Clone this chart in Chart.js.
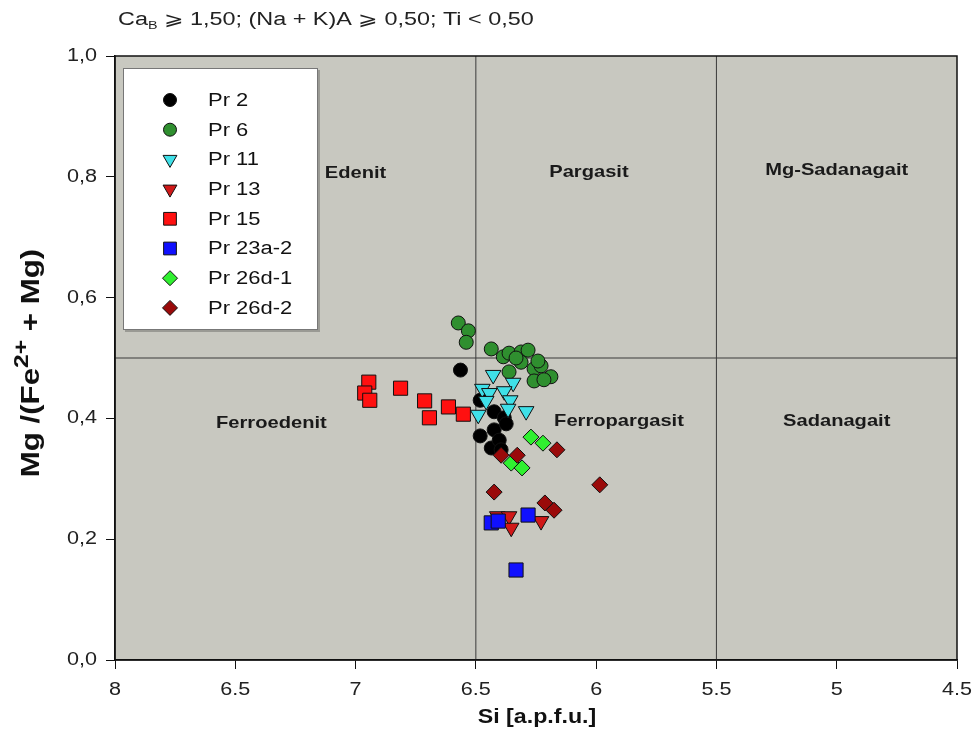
<!DOCTYPE html>
<html><head><meta charset="utf-8">
<script src="https://cdn.jsdelivr.net/npm/chart.js@4.4.0/dist/chart.umd.min.js"></script>
<style>html,body{margin:0;padding:0;background:#fff;}#wrap{width:979px;height:743px;}</style>
</head><body><div id="wrap"><canvas id="c" width="979" height="743"></canvas></div>
<script>
// ---- data ----
const xTickValues = [8, 7.5, 7, 6.5, 6, 5.5, 5, 4.5];
const xTickLabels = ['8', '6.5', '7', '6.5', '6', '5.5', '5', '4.5'];
const yTickValues = [0, 0.2, 0.4, 0.6, 0.8, 1.0];
const yTickLabels = ['0,0', '0,2', '0,4', '0,6', '0,8', '1,0'];

const seriesNames = ['Pr 2', 'Pr 6', 'Pr 11', 'Pr 13', 'Pr 15', 'Pr 23a-2', 'Pr 26d-1', 'Pr 26d-2'];

const pr2Si = [6.564, 6.482, 6.424, 6.382, 6.482, 6.424, 6.436, 6.374, 6.403, 6.395];
const pr2Mg = [0.480, 0.430, 0.411, 0.401, 0.371, 0.381, 0.351, 0.391, 0.364, 0.348];

const pr6Si = [6.573, 6.531, 6.540, 6.436, 6.386, 6.362, 6.312, 6.283, 6.362, 6.258, 6.229, 6.188, 6.258, 6.217, 6.312, 6.242, 6.333];
const pr6Mg = [0.558, 0.545, 0.526, 0.515, 0.502, 0.508, 0.510, 0.513, 0.477, 0.482, 0.487, 0.469, 0.462, 0.464, 0.493, 0.495, 0.500];

const pr11Si = [6.428, 6.345, 6.473, 6.444, 6.382, 6.357, 6.457, 6.366, 6.291, 6.490];
const pr11Mg = [0.472, 0.459, 0.449, 0.442, 0.445, 0.430, 0.429, 0.416, 0.412, 0.406];

const pr13Si = [6.411, 6.362, 6.353, 6.229];
const pr13Mg = [0.238, 0.238, 0.219, 0.230];

const pr15Si = [6.945, 6.962, 6.941, 6.813, 6.713, 6.693, 6.614, 6.552];
const pr15Mg = [0.460, 0.442, 0.430, 0.450, 0.429, 0.401, 0.419, 0.407];

const pr23a2Si = [6.436, 6.407, 6.283, 6.333];
const pr23a2Mg = [0.227, 0.230, 0.240, 0.149];

const pr26d1Si = [6.271, 6.221, 6.353, 6.308];
const pr26d1Mg = [0.369, 0.359, 0.326, 0.318];

const pr26d2Si = [6.395, 6.328, 6.163, 6.424, 5.985, 6.213, 6.175];
const pr26d2Mg = [0.339, 0.339, 0.348, 0.278, 0.290, 0.260, 0.248];

const dividerSi = [6.5, 5.5];
const dividerMg = [0.5];

const fieldNames = ['Edenit', 'Pargasit', 'Mg-Sadanagait', 'Ferroedenit', 'Ferropargasit', 'Sadanagait'];
const fieldSi = [7.00, 6.03, 5.00, 7.35, 5.905, 5.00];
const fieldMg = [0.805, 0.808, 0.811, 0.392, 0.395, 0.395];

// ---- styles ----
const FONT = '"Liberation Sans", Arial, sans-serif';
const styles = [
  {fill: '#000000', shape: 'circle', r: 7, rot: 0, lr: 6.5},
  {fill: '#2f8f2f', shape: 'circle', r: 7, rot: 0, lr: 6.5},
  {fill: '#3fe0e8', shape: 'triangle', r: 9, rot: 180, lr: 8},
  {fill: '#d01818', shape: 'triangle', r: 9, rot: 180, lr: 8},
  {fill: '#ff1010', shape: 'rect', r: 10, rot: 0, lr: 9},
  {fill: '#1010ff', shape: 'rect', r: 10, rot: 0, lr: 9},
  {fill: '#30f030', shape: 'rectRot', r: 8, rot: 0, lr: 7.5},
  {fill: '#9a0a0a', shape: 'rectRot', r: 8, rot: 0, lr: 7.5}
];
const siArrays = [pr2Si, pr6Si, pr11Si, pr13Si, pr15Si, pr23a2Si, pr26d1Si, pr26d2Si];
const mgArrays = [pr2Mg, pr6Mg, pr11Mg, pr13Mg, pr15Mg, pr23a2Mg, pr26d1Mg, pr26d2Mg];

const datasets = seriesNames.map((name, i) => ({
  label: name,
  data: siArrays[i].map((x, j) => ({x: x, y: mgArrays[i][j]})),
  pointStyle: styles[i].shape,
  pointRotation: styles[i].rot,
  pointRadius: styles[i].r,
  pointHoverRadius: styles[i].r,
  backgroundColor: styles[i].fill,
  borderColor: '#111',
  borderWidth: 1,
  showLine: false,
  order: 20 - i
}));
dividerSi.forEach(v => datasets.push({
  label: '', data: [{x: v, y: 0}, {x: v, y: 1}], showLine: true, pointRadius: 0,
  borderColor: '#3a3a3a', borderWidth: 1, order: 100
}));
dividerMg.forEach(v => datasets.push({
  label: '', data: [{x: 8, y: v}, {x: 4.5, y: v}], showLine: true, pointRadius: 0,
  borderColor: '#3a3a3a', borderWidth: 1, order: 100
}));

function drawMarker(ctx, st, x, y, r) {
  ctx.save();
  ctx.fillStyle = st.fill; ctx.strokeStyle = '#111'; ctx.lineWidth = 1;
  if (Chart.helpers && Chart.helpers.drawPoint) {
    Chart.helpers.drawPoint(ctx, {pointStyle: st.shape, rotation: st.rot, radius: r, borderWidth: 1}, x, y);
  } else {
    ctx.beginPath(); ctx.arc(x, y, r, 0, Math.PI * 2); ctx.fill(); ctx.stroke();
  }
  ctx.restore();
}
// text drawn with a slight horizontal stretch like the scanned original
function sText(ctx, text, x, y, font, sx, align, baseline) {
  ctx.save();
  ctx.font = font;
  ctx.textAlign = align || 'left';
  ctx.textBaseline = baseline || 'middle';
  ctx.translate(x, y);
  ctx.scale(sx, 1);
  ctx.fillText(text, 0, 0);
  const w = ctx.measureText(text).width * sx;
  ctx.restore();
  return w;
}

const decor = {
  id: 'decor',
  beforeDraw(chart) {
    const {ctx, chartArea: a} = chart;
    ctx.save();
    ctx.fillStyle = '#c8c8c0';
    ctx.fillRect(a.left, a.top, a.right - a.left, a.bottom - a.top);
    ctx.restore();
  },
  afterDatasetsDraw(chart) {
    const {ctx, chartArea: a, scales} = chart;
    ctx.save();
    ctx.strokeStyle = '#111'; ctx.lineWidth = 1.5;
    ctx.strokeRect(a.left, a.top, a.right - a.left, a.bottom - a.top);
    ctx.fillStyle = '#1a1a1a';
    fieldNames.forEach((n, i) => {
      sText(ctx, n, scales.x.getPixelForValue(fieldSi[i]), scales.y.getPixelForValue(fieldMg[i]),
        'bold 16.5px ' + FONT, 1.22, 'center', 'middle');
    });
    // legend box
    const bx = 123, by = 68, bw = 195, bh = 262;
    ctx.fillStyle = '#9a9a94';
    ctx.fillRect(bx + 2, by + 2, bw, bh);
    ctx.fillStyle = '#ffffff';
    ctx.fillRect(bx, by, bw, bh);
    ctx.strokeStyle = '#777'; ctx.lineWidth = 1;
    ctx.strokeRect(bx + 0.5, by + 0.5, bw - 1, bh - 1);
    seriesNames.forEach((n, i) => {
      const y = 100 + i * 29.7;
      drawMarker(ctx, styles[i], 170, y, styles[i].lr);
      ctx.fillStyle = '#111';
      sText(ctx, n, 208, y + 1, '18px ' + FONT, 1.22, 'left', 'middle');
    });
    ctx.restore();
  },
  afterDraw(chart) {
    const {ctx, scales} = chart;
    ctx.save();
    ctx.fillStyle = '#222';
    // tick labels
    xTickValues.forEach((v, i) => {
      sText(ctx, xTickLabels[i], scales.x.getPixelForValue(v), 690, '18px ' + FONT, 1.2, 'center', 'middle');
    });
    yTickValues.forEach((v, i) => {
      sText(ctx, yTickLabels[i], 97, scales.y.getPixelForValue(v), '18px ' + FONT, 1.2, 'right', 'middle');
    });
    // top title with subscript
    const base = 25;
    const main = '18px ' + FONT, sub = '11px ' + FONT;
    const sx = 1.3;
    let x = 118;
    x += sText(ctx, 'Ca', x, base, main, sx, 'left', 'alphabetic');
    x += sText(ctx, 'B', x, base + 4, sub, sx, 'left', 'alphabetic');
    sText(ctx, ' \u2A7E 1,50; (Na + K)A \u2A7E 0,50; Ti < 0,50', x, base, main, sx, 'left', 'alphabetic');
    // x title
    ctx.fillStyle = '#111';
    sText(ctx, 'Si [a.p.f.u.]', 537, 717, 'bold 20px ' + FONT, 1.16, 'center', 'middle');
    // y title rotated with superscript
    ctx.save();
    ctx.translate(32, 363);
    ctx.rotate(-Math.PI / 2);
    ctx.scale(1.3, 1.08);
    const big = 'bold 24px ' + FONT;
    const small = 'bold 19px ' + FONT;
    const parts = [['Mg /(Fe', big, 0], ['2+', small, -9], [' + Mg)', big, 0]];
    let tw = 0;
    parts.forEach(p => { ctx.font = p[1]; tw += ctx.measureText(p[0]).width; });
    let px = -tw / 2;
    ctx.textAlign = 'left'; ctx.textBaseline = 'middle';
    parts.forEach(p => { ctx.font = p[1]; ctx.fillText(p[0], px, p[2]); px += ctx.measureText(p[0]).width; });
    ctx.restore();
    ctx.restore();
  }
};

new Chart(document.getElementById('c'), {
  type: 'scatter',
  data: {datasets: datasets},
  options: {
    responsive: false, animation: false, devicePixelRatio: 1,
    layout: {padding: {top: 56, right: 22, left: 0, bottom: 0}},
    plugins: {legend: {display: false}, tooltip: {enabled: false}, title: {display: false}},
    scales: {
      x: {
        type: 'linear', reverse: true, min: 4.5, max: 8,
        afterBuildTicks: s => { s.ticks = xTickValues.map(v => ({value: v})); },
        afterFit: s => { s.height = 83; },
        ticks: {display: false},
        grid: {drawOnChartArea: false, drawTicks: true, tickLength: 9, color: '#111'},
        border: {display: true, color: '#111', width: 1.5}
      },
      y: {
        type: 'linear', min: 0, max: 1,
        afterBuildTicks: s => { s.ticks = yTickValues.map(v => ({value: v})); },
        afterFit: s => { s.width = 115; },
        ticks: {display: false},
        grid: {drawOnChartArea: false, drawTicks: true, tickLength: 9, color: '#111'},
        border: {display: true, color: '#111', width: 1.5}
      }
    }
  },
  plugins: [decor]
});
</script>
</body></html>
